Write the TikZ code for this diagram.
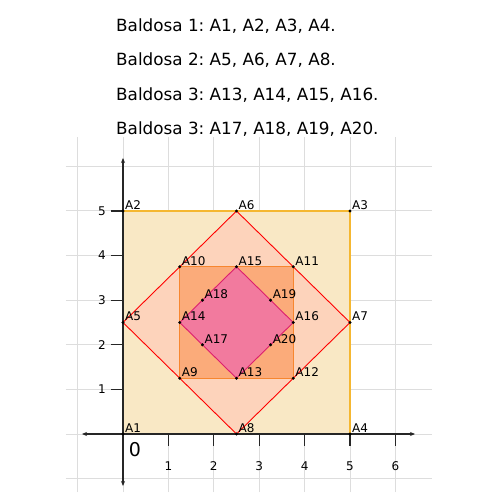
\documentclass[tikz,border=0pt]{standalone}
\usepackage{fontspec}
\setmainfont{DejaVu Sans}
\usetikzlibrary{arrows.meta}
\frenchspacing
\definecolor{beige}{HTML}{F9E8C5}
\definecolor{gold}{HTML}{F5B731}
\definecolor{peach}{HTML}{FDD3BB}
\definecolor{orangefill}{HTML}{FBAB7A}
\definecolor{orangeline}{HTML}{F7862F}
\definecolor{pinkfill}{HTML}{F27A9E}
\definecolor{pinkline}{HTML}{DC1F6E}
\definecolor{gridgray}{HTML}{DDDDDD}
\tikzset{
  gridline/.style={draw=gridgray, line width=1pt},
  axisline/.style={draw=black!85, line width=1.1pt, {Stealth[length=5pt,width=4pt]}-{Stealth[length=5pt,width=4pt]}},
  tickline/.style={draw=black!85, line width=1.1pt},
  ticklab/.style={font=\fontsize{12}{14}\selectfont, inner sep=0pt},
  ptdot/.style={circle, fill=black, inner sep=0pt, minimum size=3.4pt},
  ptlab/.style={font=\fontsize{12}{14}\selectfont, anchor=base west, inner sep=0pt, xshift=2pt, yshift=1.5pt},
  titlelab/.style={font=\fontsize{16.8}{20}\selectfont, anchor=base west, inner sep=0pt}
}
\begin{document}
\begin{tikzpicture}[x=45.4pt,y=44.6pt]
\useasboundingbox[fill=white] (-123pt,-66pt) rectangle (377pt,434pt);
% titles
\node[titlelab] (t1) at (-7pt,402pt) {Baldosa 1: A1, A2, A3, A4.};
\node[titlelab] (t2) at (-7pt,368pt) {Baldosa 2: A5, A6, A7, A8.};
\node[titlelab] (t3) at (-7pt,333pt) {Baldosa 3: A13, A14, A15, A16.};
\node[titlelab] (t4) at (-7pt,299pt) {Baldosa 3: A17, A18, A19, A20.};
% grid
\foreach \i in {-1,...,6} {
  \draw[gridline] (\i*45.4pt,-58pt) -- (\i*45.4pt,297pt);
  \draw[gridline] (-57pt,\i*44.6pt) -- (309pt,\i*44.6pt);
}
% points
\coordinate (A1) at (0,0);
\coordinate (A2) at (0,5);
\coordinate (A3) at (5,5);
\coordinate (A4) at (5,0);
\coordinate (A5) at (0,2.5);
\coordinate (A6) at (2.5,5);
\coordinate (A7) at (5,2.5);
\coordinate (A8) at (2.5,0);
\coordinate (A9) at (1.25,1.25);
\coordinate (A10) at (1.25,3.75);
\coordinate (A11) at (3.75,3.75);
\coordinate (A12) at (3.75,1.25);
\coordinate (A13) at (2.5,1.25);
\coordinate (A14) at (1.25,2.5);
\coordinate (A15) at (2.5,3.75);
\coordinate (A16) at (3.75,2.5);
\coordinate (A17) at (1.75,2);
\coordinate (A18) at (1.75,3);
\coordinate (A19) at (3.25,3);
\coordinate (A20) at (3.25,2);
% tiles
\filldraw[fill=beige, draw=gold, line width=1.4pt] (A1) -- (A2) -- (A3) -- (A4) -- cycle;
\filldraw[fill=peach, draw=red, line width=0.9pt] (A5) -- (A6) -- (A7) -- (A8) -- cycle;
\filldraw[fill=orangefill, draw=orangeline, line width=1.2pt] (A9) -- (A10) -- (A11) -- (A12) -- cycle;
\filldraw[fill=pinkfill, draw=pinkline, line width=0.9pt] (A13) -- (A14) -- (A15) -- (A16) -- cycle;
% axes
\coordinate (xl) at (-41pt,0);
\coordinate (xr) at (292pt,0);
\coordinate (yb) at (0,-52pt);
\coordinate (yt) at (0,276pt);
\draw[axisline] (xl) -- (xr);
\draw[axisline] (yb) -- (yt);
\foreach \i in {1,...,6} {
  \draw[tickline] (\i*45.4pt,0) -- (\i*45.4pt,-12pt);
  \node[ticklab] (xt\i) at (\i*45.4pt,-32pt) {\i};
}
\foreach \i in {1,...,5} {
  \draw[tickline] (-12pt,\i*44.6pt) -- (0,\i*44.6pt);
  \node[ticklab] (yt\i) at (-21pt,\i*44.6pt) {\i};
}
\node[font=\fontsize{19}{22}\selectfont, inner sep=0pt] (zero) at (12pt,-16pt) {0};
% dots and labels
\foreach \p in {1,...,20} {
  \node[ptdot] (d\p) at (A\p) {};
  \node[ptlab] (l\p) at (A\p) {A\p};
}
\end{tikzpicture}
\end{document}
